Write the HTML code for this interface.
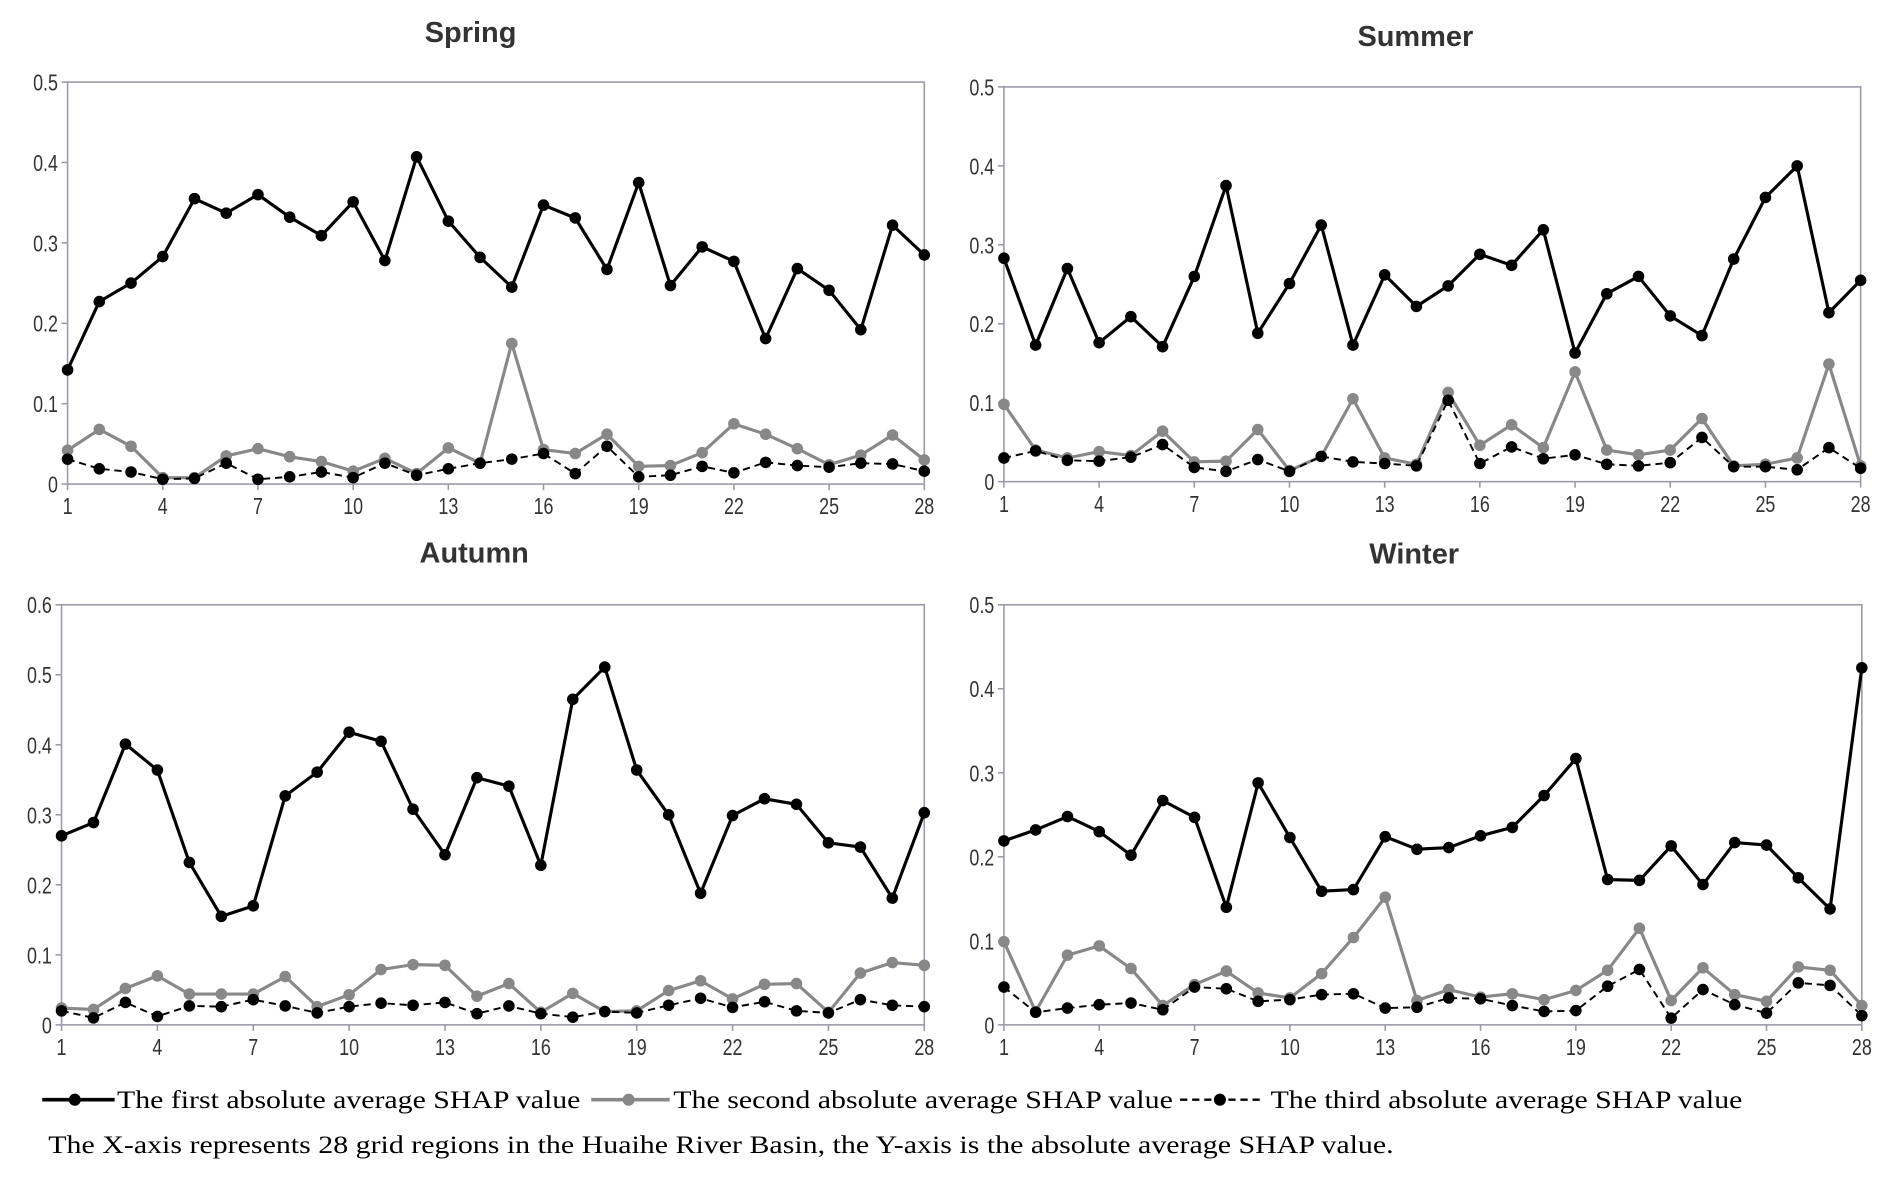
<!DOCTYPE html>
<html><head><meta charset="utf-8"><style>
html,body{margin:0;padding:0;background:#fff;}
svg{display:block;}
</style></head><body>
<svg id="fig" xmlns="http://www.w3.org/2000/svg" width="1892" height="1183" viewBox="0 0 1568 980" preserveAspectRatio="none">
<g id="panels"></g>
<g font-family="Liberation Serif, serif" font-size="21" fill="#000">
  <g>
    <line x1="35" y1="911" x2="95" y2="911" stroke="#000" stroke-width="3"/><circle cx="62" cy="911" r="5" fill="#000"/>
    <text x="97" y="918" textLength="384" lengthAdjust="spacingAndGlyphs">The first absolute average SHAP value</text>
  </g>
  <g>
    <line x1="490" y1="911" x2="555" y2="911" stroke="#888" stroke-width="3"/><circle cx="521" cy="911" r="5" fill="#888"/>
    <text x="558" y="918" textLength="414" lengthAdjust="spacingAndGlyphs">The second absolute average SHAP value</text>
  </g>
  <g>
    <line x1="978" y1="911" x2="1045" y2="911" stroke="#000" stroke-width="2" stroke-dasharray="6,4"/><circle cx="1011" cy="911" r="5" fill="#000"/>
    <text x="1053" y="918" textLength="391" lengthAdjust="spacingAndGlyphs">The third absolute average SHAP value</text>
  </g>
</g>
<text x="40" y="955" font-family="Liberation Serif, serif" font-size="21" textLength="1115" lengthAdjust="spacingAndGlyphs">The X-axis represents 28 grid regions in the Huaihe River Basin, the Y-axis is the absolute average SHAP value.</text>
</svg>
<script>
const xTicks = [1,4,7,10,13,16,19,22,25,28];
const springFirst = [0.142,0.227,0.25,0.283,0.355,0.337,0.36,0.332,0.309,0.351,0.278,0.407,0.327,0.282,0.245,0.347,0.331,0.267,0.375,0.247,0.295,0.277,0.181,0.268,0.241,0.192,0.322,0.285];
const springSecond = [0.042,0.068,0.047,0.008,0.008,0.035,0.044,0.034,0.028,0.016,0.032,0.013,0.045,0.026,0.175,0.043,0.038,0.062,0.022,0.023,0.039,0.075,0.062,0.044,0.024,0.036,0.061,0.030];
const springThird = [0.031,0.019,0.015,0.006,0.007,0.026,0.006,0.009,0.015,0.008,0.026,0.011,0.019,0.026,0.031,0.038,0.013,0.047,0.009,0.011,0.022,0.014,0.027,0.023,0.021,0.026,0.025,0.016];
const summerFirst = [0.283,0.173,0.27,0.176,0.209,0.171,0.26,0.375,0.188,0.251,0.325,0.173,0.262,0.222,0.248,0.288,0.274,0.319,0.163,0.238,0.26,0.21,0.185,0.282,0.36,0.4,0.214,0.255];
const summerSecond = [0.098,0.04,0.03,0.038,0.033,0.064,0.025,0.026,0.066,0.014,0.032,0.105,0.03,0.022,0.113,0.046,0.072,0.043,0.139,0.04,0.034,0.04,0.08,0.02,0.022,0.03,0.149,0.02];
const summerThird = [0.03,0.039,0.027,0.026,0.031,0.047,0.018,0.013,0.028,0.013,0.032,0.025,0.023,0.02,0.103,0.023,0.044,0.029,0.034,0.022,0.02,0.024,0.056,0.019,0.019,0.015,0.043,0.017];
const autumnFirst = [0.27,0.289,0.401,0.364,0.232,0.155,0.17,0.327,0.361,0.418,0.405,0.308,0.243,0.353,0.341,0.228,0.465,0.511,0.364,0.3,0.188,0.299,0.323,0.315,0.26,0.254,0.181,0.303];
const autumnSecond = [0.024,0.022,0.052,0.07,0.044,0.044,0.044,0.069,0.026,0.043,0.079,0.086,0.085,0.041,0.059,0.018,0.045,0.019,0.02,0.049,0.063,0.037,0.058,0.059,0.018,0.074,0.089,0.085];
const autumnThird = [0.02,0.01,0.032,0.012,0.027,0.026,0.036,0.027,0.017,0.026,0.031,0.028,0.032,0.016,0.027,0.016,0.011,0.019,0.017,0.028,0.038,0.025,0.033,0.02,0.017,0.036,0.028,0.026];
const winterFirst = [0.219,0.232,0.248,0.23,0.202,0.267,0.247,0.14,0.288,0.223,0.159,0.161,0.224,0.209,0.211,0.225,0.235,0.273,0.317,0.173,0.172,0.213,0.167,0.217,0.214,0.175,0.138,0.425];
const winterSecond = [0.099,0.016,0.083,0.094,0.067,0.023,0.048,0.064,0.038,0.032,0.061,0.104,0.152,0.029,0.042,0.033,0.037,0.03,0.041,0.065,0.115,0.029,0.068,0.036,0.028,0.069,0.065,0.023];
const winterThird = [0.045,0.015,0.02,0.024,0.026,0.018,0.045,0.043,0.028,0.03,0.036,0.037,0.02,0.021,0.032,0.031,0.023,0.016,0.017,0.046,0.066,0.008,0.042,0.024,0.014,0.05,0.047,0.011];
const yTicks5 = [0,0.1,0.2,0.3,0.4,0.5];
const yTicks6 = [0,0.1,0.2,0.3,0.4,0.5,0.6];

const NS='http://www.w3.org/2000/svg';
const root=document.getElementById('panels');
function mk(tag,attrs,parent){const e=document.createElementNS(NS,tag);for(const k in attrs)e.setAttribute(k,attrs[k]);parent.appendChild(e);return e;}

const panels=[
 {name:'spring',title:'Spring',tx:390,ty:35,L:56,R:766,T:68,B:401,max:0.5,ticks:yTicks5,s:[springFirst,springSecond,springThird]},
 {name:'summer',title:'Summer',tx:1173,ty:38,L:832,R:1542,T:72,B:399,max:0.5,ticks:yTicks5,s:[summerFirst,summerSecond,summerThird]},
 {name:'autumn',title:'Autumn',tx:393,ty:466,L:51,R:766,T:501,B:849,max:0.6,ticks:yTicks6,s:[autumnFirst,autumnSecond,autumnThird]},
 {name:'winter',title:'Winter',tx:1172,ty:467,L:832,R:1543,T:501,B:849,max:0.5,ticks:yTicks5,s:[winterFirst,winterSecond,winterThird]}
];
const styles=[
 {n:'first',c:'#000',w:2.6,d:null,mc:'#000'},
 {n:'second',c:'#888',w:2.6,d:null,mc:'#888'},
 {n:'third',c:'#000',w:1.6,d:'6,4',mc:'#000'}
];
panels.forEach(p=>{
 const g=mk('g',{},root);
 
 
 const xs=i=>p.L+(i-1)*(p.R-p.L)/27;
 const ys=v=>p.B-v/p.max*(p.B-p.T);
 const t=mk('text',{x:p.tx,y:p.ty,'text-anchor':'middle','font-family':'Liberation Sans, sans-serif','font-weight':'bold','font-size':24,fill:'#333'},g);
 t.textContent=p.title;
 
 
 const fr=mk('rect',{x:p.L,y:p.T,width:p.R-p.L,height:p.B-p.T,fill:'none',stroke:'#9a9aa8','stroke-width':1.3},g);
 
 
 p.ticks.forEach(v=>{
  mk('line',{x1:p.L-5,x2:p.L,y1:ys(v),y2:ys(v),stroke:'#9a9aa8','stroke-width':1.3},g);
  const tl=mk('text',{x:p.L-8,y:ys(v)+7,'text-anchor':'end','font-family':'Liberation Sans, sans-serif','font-size':19,fill:'#333',transform:`translate(${p.L-8},0) scale(0.78,1) translate(${-(p.L-8)},0)`},g);
  tl.textContent=String(v);
  
  
 });
 xTicks.forEach(v=>{
  mk('line',{x1:xs(v),x2:xs(v),y1:p.B,y2:p.B+5,stroke:'#9a9aa8','stroke-width':1.3},g);
  const tl=mk('text',{x:xs(v),y:p.B+25,'text-anchor':'middle','font-family':'Liberation Sans, sans-serif','font-size':19,fill:'#333',transform:`translate(${xs(v)},0) scale(0.78,1) translate(${-xs(v)},0)`},g);
  tl.textContent=String(v);
  
  
 });
 [1,0,2].forEach(k=>{
  const st=styles[k],data=p.s[k];
  const sg=mk('g',{},g);
  
  
  const pts=data.map((v,i)=>xs(i+1).toFixed(1)+','+ys(v).toFixed(1)).join(' ');
  const pl=mk('polyline',{points:pts,fill:'none',stroke:st.c,'stroke-width':st.w,'stroke-linejoin':'round'},sg);
  if(st.d)pl.setAttribute('stroke-dasharray',st.d);
  
  
  data.forEach((v,i)=>{
   const c=mk('circle',{cx:xs(i+1),cy:ys(v),r:4.8,fill:st.mc},sg);
   
   
  });
 });
});
</script>
</body></html>
